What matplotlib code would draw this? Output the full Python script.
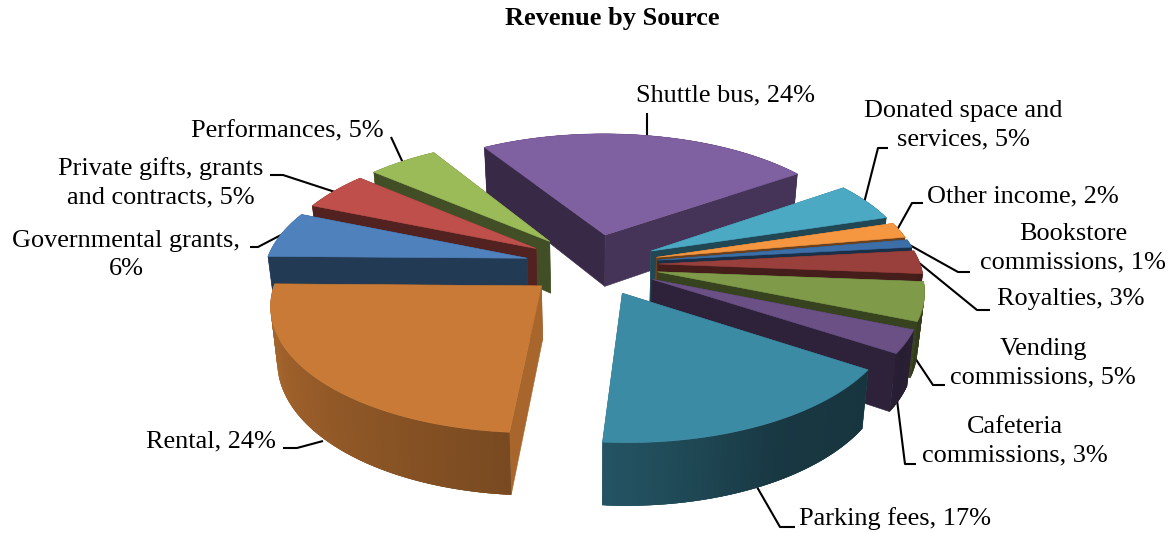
import numpy as np
import matplotlib
matplotlib.use("Agg")
import matplotlib.pyplot as plt
from matplotlib.patches import Polygon

# ---- data ----
categories = ["Shuttle bus", "Donated space and services", "Other income",
              "Bookstore commissions", "Royalties", "Vending commissions",
              "Cafeteria commissions", "Parking fees", "Rental",
              "Governmental grants", "Private gifts, grants and contracts",
              "Performances"]
shares = [24, 5, 2, 1, 3, 5, 3, 17, 24, 6, 5, 5]
colors = ["#7F60A0", "#4BA9C4", "#F59640", "#3C6EA8", "#9A403C", "#7F9A48",
          "#6A5085", "#3C8BA5", "#C87A36", "#4F81BD", "#BE4F4B", "#9BBB59"]
title = "Revenue by Source"
label_texts = ["Shuttle bus, 24%", "Donated space and\nservices, 5%", "Other income, 2%",
               "Bookstore\ncommissions, 1%", "Royalties, 3%", "Vending\ncommissions, 5%",
               "Cafeteria\ncommissions, 3%", "Parking fees, 17%", "Rental, 24%",
               "Governmental grants,\n6%", "Private gifts, grants\nand contracts, 5%",
               "Performances, 5%"]

# ---- layout / style ----
label_pos = [(636, 95.5, "left"), (963, 125, "center"), (927, 196.5, "left"),
             (1073, 248, "center"), (997, 299.5, "left"), (1043, 363, "center"),
             (1015, 441, "center"), (799, 518.5, "left"), (146, 441.5, "left"),
             (126, 255, "center"), (161, 183, "center"), (191, 131.5, "left")]
leaders = [[(647, 113), (647, 136)],
           [(888, 148), (878, 148), (864, 203)],
           [(923, 203), (912, 203), (897, 230)],
           [(970, 272), (958, 272), (906, 243)],
           [(990, 310), (977, 310), (918, 262)],
           [(945, 385), (933, 385), (915, 358)],
           [(916, 464), (905, 464), (897, 400)],
           [(757, 487), (780, 527), (795, 527)],
           [(283, 448), (297, 448), (323, 441)],
           [(250, 247), (258, 247), (281, 235)],
           [(270, 175), (283, 175), (335, 192)],
           [(391, 137), (403, 163)]]
CX, CY = 592.0, 264.5
R, E, H = 261.5, 66.8, 53.0
TILT, PERSP, CONVERGE = 0.465, 0.00050, 0.00040
START = -31.5

plt.rcParams["font.family"] = ["Liberation Serif", "DejaVu Serif"]
fig = plt.figure(figsize=(11.7, 5.33), dpi=100)
ax = fig.add_axes([0, 0, 1, 1])
ax.set_xlim(0, 1170)
ax.set_ylim(533, 0)
ax.axis("off")


def project(X, Y, Z=0.0):
    X, Y, Z = np.asarray(X), np.asarray(Y), np.asarray(Z)
    s = 1.0 / (1.0 + PERSP * Y)
    return CX + X * s * (1 + CONVERGE * Z), CY - Y * TILT * s - Z * s


def shade(color, k):
    return tuple(min(1, c * k) for c in matplotlib.colors.to_rgb(color))


def rim_shade(phi):
    return np.interp(phi % 360, [0, 90, 120, 150, 183, 270, 360], [.6, .42, .38, .40, .60, .88, .6])


def radial_shade(normal):
    return np.interp(normal % 360, [0, 60, 90, 100, 144, 162, 183, 201, 237, 273, 360],
                     [.6, .6, .84, .84, .55, .42, .45, .43, .42, .84, .6])


edges = START + np.cumsum([0] + shares) * 3.6
slices = []
for i, share in enumerate(shares):
    p0, p1 = edges[i], edges[i + 1]
    mid = np.radians((p0 + p1) / 2)
    ox, oy = E * np.sin(mid), E * np.cos(mid)
    phi = np.linspace(p0, p1, max(8, int(share * 6)))
    rx = ox + R * np.sin(np.radians(phi))
    ry = oy + R * np.cos(np.radians(phi))
    depth = oy + R * 0.6 * np.cos(mid)
    slices.append((depth, i, ox, oy, phi, rx, ry))


def face(ax_, xs, ys, zs, col, z, lw=0.4):
    px, py = project(np.array(xs), np.array(ys), np.array(zs))
    ax_.add_patch(Polygon(np.column_stack([px, py]), closed=True, facecolor=col,
                          edgecolor=col if lw else "none", lw=lw, zorder=z))


z = 5.0
for depth, i, ox, oy, phi, rx, ry in sorted(slices, key=lambda t: -t[0]):
    c = colors[i]
    n = len(phi)

    def rim(indices):
        global z
        for j in indices:
            a, b = max(j - 1, 0), min(j + 2, n - 1)
            face(ax, [*rx[a:b + 1], *rx[a:b + 1][::-1]], [*ry[a:b + 1], *ry[a:b + 1][::-1]],
                 [0] * (b - a + 1) + [-H] * (b - a + 1),
                 shade(c, rim_shade((phi[j] + phi[j + 1]) / 2)), z, lw=0)
            z += 0.001

    mids = (phi[:-1] + phi[1:]) / 2
    back = [j for j in range(n - 1) if np.cos(np.radians(mids[j])) > 0]
    front = [j for j in range(n - 1) if np.cos(np.radians(mids[j])) <= 0]
    front.sort(key=lambda j: -np.cos(np.radians(mids[j])))
    rim(back)
    radial = [(ry[0], rx[0], phi[0] - 90), (ry[-1], rx[-1], phi[-1] + 90)]
    for ey, ex, normal in sorted(radial, key=lambda w: -w[0]):
        face(ax, [ox, ex, ex, ox], [oy, ey, ey, oy], [0, 0, -H, -H],
             shade(c, radial_shade(normal)), z)
        z += 0.001
    rim(front)
    face(ax, [ox, *rx], [oy, *ry], [0] * (len(rx) + 1), c, z)
    z += 0.001

for pts in leaders:
    xs, ys = zip(*pts)
    ax.plot(xs, ys, color="black", lw=1.5, zorder=2, solid_capstyle="butt")

for txt, (x, y, ha) in zip(label_texts, label_pos):
    ax.text(x, y, txt, ha=ha, va="center", fontsize=18.9, color="black",
            linespacing=1.38, multialignment="center", zorder=30)
ax.text(612, 18.5, title, ha="center", va="center", fontsize=19,
        fontweight="bold", color="black")

fig.savefig("out.png", dpi=100)
